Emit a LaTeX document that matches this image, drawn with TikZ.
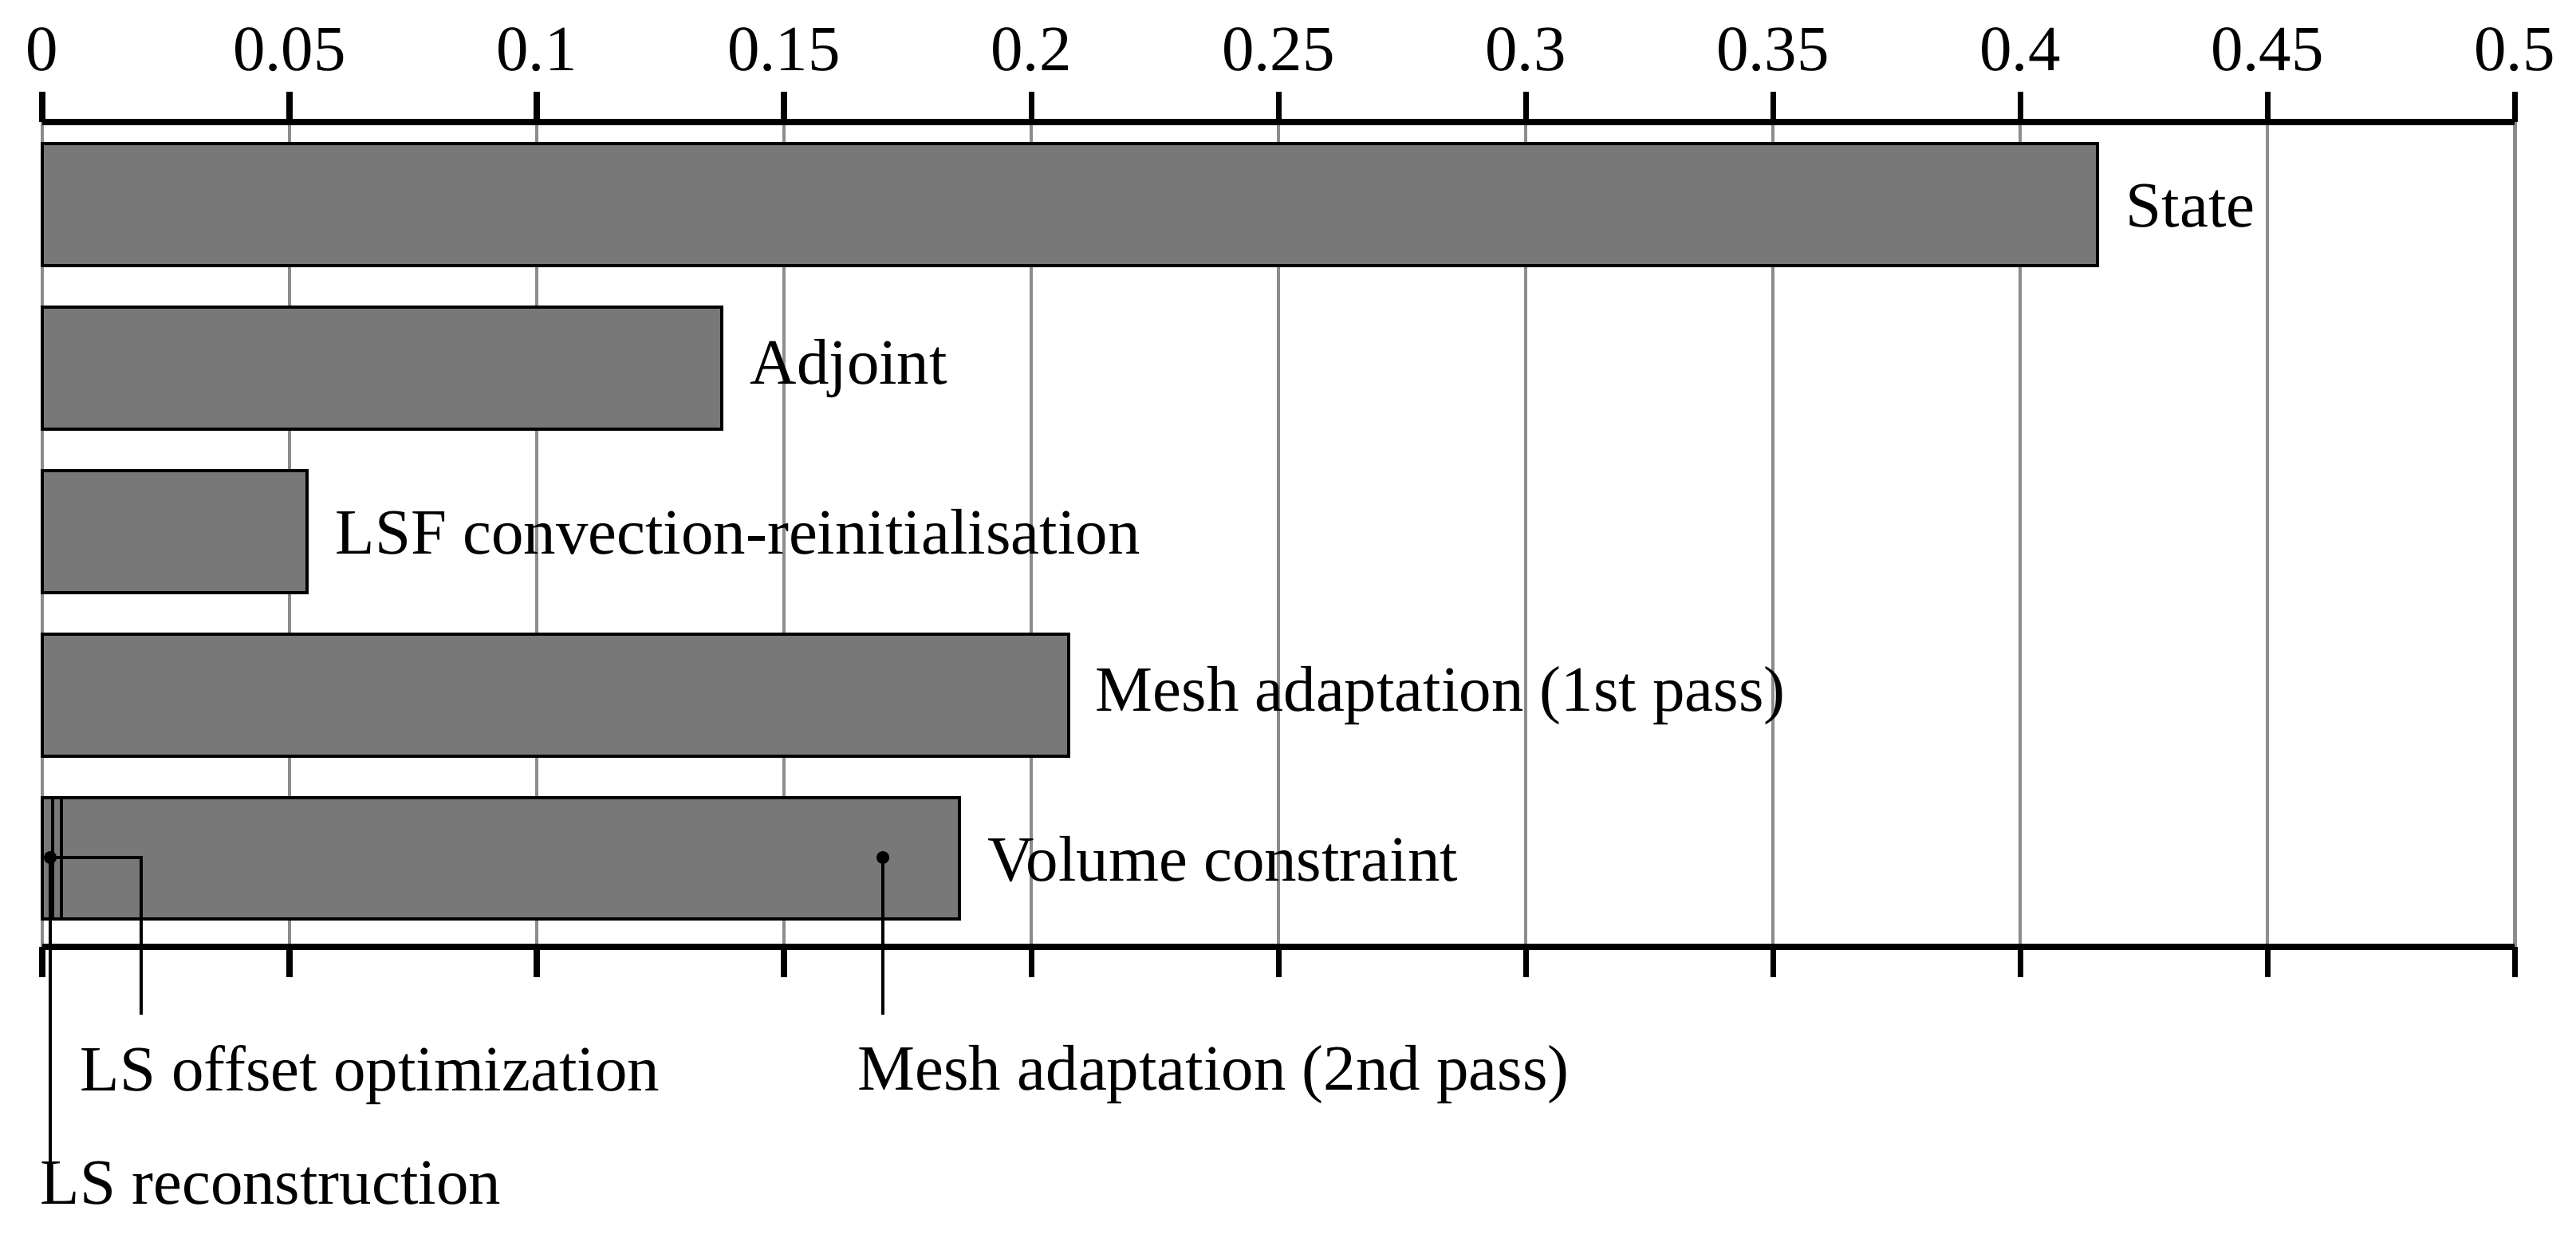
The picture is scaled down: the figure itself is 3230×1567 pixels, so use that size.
\documentclass[tikz,border=0pt]{standalone}
\usepackage{fontspec}
\setmainfont{Liberation Serif}
\begin{document}
\begin{tikzpicture}[x=0.01cm,y=-0.01cm,
  bar/.style={draw=black,line width=1.4pt,fill=black!53},
  grid/.style={draw=black!45,line width=1.4pt},
  lbl/.style={font=\fontsize{23}{26}\selectfont,inner sep=0pt},
  lead/.style={draw=black,line width=1.3pt}]
\useasboundingbox (0,0) rectangle (3230,1567);
\foreach \i in {0,...,10}{
  \pgfmathsetmacro\xx{53+310*\i}
  \draw[grid] (\xx,153) -- (\xx,1187);
  \draw[line width=2pt] (\xx,115) -- (\xx,153);
  \draw[line width=2pt] (\xx,1187) -- (\xx,1225);
}
\foreach \v/\i in {0/0,0.05/1,0.1/2,0.15/3,0.2/4,0.25/5,0.3/6,0.35/7,0.4/8,0.45/9,0.5/10}{
  \node[lbl] (t\i) at (53+310*\i,62) {\v};
}
\draw[line width=2pt] (53,153) -- (3153,153);
\draw[line width=2pt] (53,1187) -- (3153,1187);
\draw[bar] (53,180) rectangle (2630,333);
\draw[bar] (53,385) rectangle (905,538);
\draw[bar] (53,590) rectangle (385,743);
\draw[bar] (53,795) rectangle (1340,948);
\draw[bar] (53,1000) rectangle (1203,1152);
\draw[bar,line width=1.3pt] (53,1000) rectangle (77,1152);
\draw[bar,line width=1.3pt] (53,1000) rectangle (66,1152);
\node[lbl,anchor=west] (lstate) at (2665,258) {State};
\node[lbl,anchor=west] (ladj) at (940,462) {Adjoint};
\node[lbl,anchor=west] (llsf) at (420,667) {LSF convection-reinitialisation};
\node[lbl,anchor=west] (lm1) at (1373,872) {Mesh adaptation (1st pass)};
\node[lbl,anchor=west] (lvol) at (1238,1077) {Volume constraint};
\coordinate (drec) at (63,1075);
\coordinate (doff) at (63,1075);
\coordinate (dm2) at (1107,1075);
\fill (drec) circle (8);
\fill (dm2) circle (8);
\node[lbl,anchor=north west] (lrec) at (50,1455) {LS reconstruction};
\node[lbl,anchor=north west] (loff) at (100,1310) {LS offset optimization};
\node[lbl,anchor=north west] (lm2) at (1075,1310) {Mesh adaptation (2nd pass)};
\draw[lead] (drec) -- (63,1505);
\draw[lead] (doff) -- (177,1075) -- (177,1272);
\draw[lead] (dm2) -- (1107,1272);
\end{tikzpicture}
\end{document}
